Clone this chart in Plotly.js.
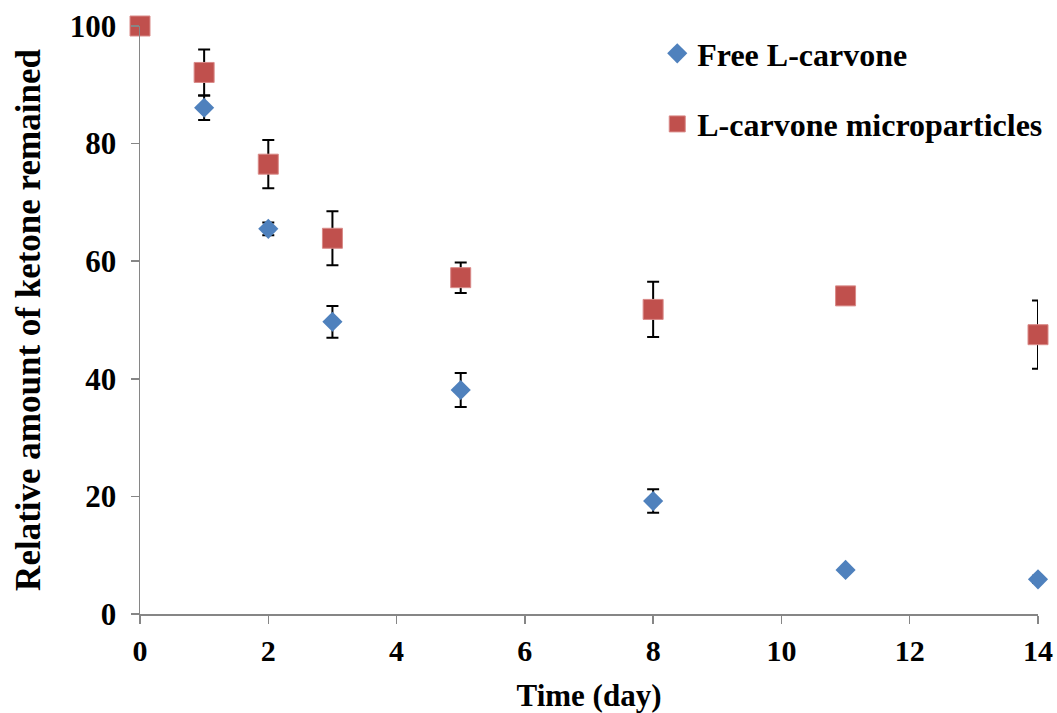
<!DOCTYPE html>
<html>
<head>
<meta charset="utf-8">
<script src="https://cdn.plot.ly/plotly-3.0.1.min.js"></script>
<style>html,body{margin:0;padding:0;background:#fff;}#chart{width:1057px;height:713px;}</style>
</head>
<body>
<div id="chart"></div>
<script>
const days = [0, 1, 2, 3, 5, 8, 11, 14];
const freeCarvone = [100, 86.1, 65.5, 49.7, 38.1, 19.2, 7.5, 5.9];
const freeCarvoneErr = [0, 2.1, 1.1, 2.7, 2.9, 2.0, 0.3, 0.6];
const microparticles = [100, 92.1, 76.5, 63.9, 57.2, 51.8, 54.1, 47.5];
const microparticlesErr = [0, 3.9, 4.1, 4.6, 2.6, 4.7, 0.8, 5.8];
const seriesNames = ['Free L-carvone', 'L-carvone microparticles'];
const xTicks = [0, 2, 4, 6, 8, 10, 12, 14];
const yTicks = [0, 20, 40, 60, 80, 100];

const FONT = 'Liberation Serif, Times New Roman, serif';

const traces = [
  {
    x: days, y: freeCarvone, name: seriesNames[0], type: 'scatter', mode: 'markers',
    legendgroup: 'a',
    marker: {symbol: 'diamond', size: 15.5, color: '#4F81BD', line: {width: 0}},
    error_y: {type: 'data', array: freeCarvoneErr, visible: true, color: '#000', thickness: 2, width: 6},
    cliponaxis: false
  },
  {
    x: days, y: microparticles, name: seriesNames[1], type: 'scatter', mode: 'markers',
    legendgroup: 'b',
    marker: {symbol: 'square', size: 20, color: '#C0504D', line: {width: 1, color: '#D98A88'}},
    error_y: {type: 'data', array: microparticlesErr, visible: true, color: '#000', thickness: 2, width: 6},
    cliponaxis: false
  }
];

const layout = {
  width: 1057, height: 713,
  margin: {l: 140, r: 19, t: 26, b: 99, autoexpand: false},
  paper_bgcolor: '#fff', plot_bgcolor: '#fff',
  font: {family: FONT, color: '#000', size: 30},
  showlegend: true,
  legend: {
    x: 0.576, y: 1.0, xanchor: 'left', yanchor: 'top',
    font: {family: FONT, size: 32, color: '#000', weight: 'bold'},
    bgcolor: 'rgba(0,0,0,0)', tracegroupgap: 26, traceorder: 'grouped'
  },
  xaxis: {
    range: [0, 14], tickvals: xTicks, ticktext: xTicks.map(String),
    showgrid: false, zeroline: false, showline: true, linecolor: '#868686', linewidth: 1.5,
    ticks: 'outside', ticklen: 8, tickcolor: '#868686', tickwidth: 1.5,
    tickfont: {family: FONT, size: 30, color: '#000', weight: 'bold'},
    ticklabelstandoff: 1,
    title: {text: 'Time (day)', font: {family: FONT, size: 31, color: '#000', weight: 'bold'}, standoff: 19}
  },
  yaxis: {
    range: [0, 100], tickvals: yTicks, ticktext: yTicks.map(String),
    showgrid: false, zeroline: false, showline: true, linecolor: '#868686', linewidth: 1.5,
    ticks: 'outside', ticklen: 8, tickcolor: '#868686', tickwidth: 1.5,
    tickfont: {family: FONT, size: 31, color: '#000', weight: 'bold'},
    ticklabelstandoff: 8,
    title: {text: 'Relative amount of ketone remained', font: {family: FONT, size: 35, color: '#000', weight: 'bold'}, standoff: 18}
  }
};

Plotly.newPlot('chart', traces, layout, {displayModeBar: false, staticPlot: true});
</script>
</body>
</html>
